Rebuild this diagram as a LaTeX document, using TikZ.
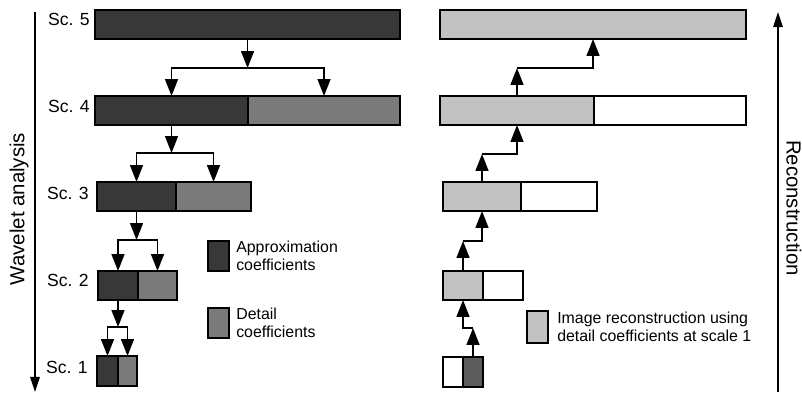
\documentclass[tikz,border=0pt]{standalone}
\usepackage{fontspec}
\setmainfont{Liberation Sans}
\usetikzlibrary{arrows.meta,positioning}
\definecolor{approxgray}{gray}{0.22}
\definecolor{detailgray}{gray}{0.48}
\definecolor{recongray}{gray}{0.76}
\definecolor{scalegray}{gray}{0.36}

\begin{document}
\begin{tikzpicture}[
  x=0.025cm, y=-0.025cm,
  cell/.style={rectangle, draw, line width=1.1pt, anchor=north west, minimum height=0.725cm, inner sep=0pt, outer sep=0pt},
  arr/.style={-{Triangle[length=0.42cm, width=0.32cm]}, line width=1.2pt},
  axis/.style={-{Triangle[length=0.38cm, width=0.24cm]}, line width=0.9pt},
  sclabel/.style={font=\fontsize{12.5}{14}\selectfont, anchor=east, inner sep=0pt},
  legtext/.style={font=\fontsize{11.3}{13}\selectfont, align=left, anchor=west, inner sep=0pt},
  sidelabel/.style={font=\fontsize{14.5}{16}\selectfont, inner sep=0pt},
  every node/.style={inner sep=2pt}
]
\useasboundingbox (0,0) rectangle (802,394);

% Analysis: coefficient bars
\node[cell, fill=approxgray, minimum width=7.625cm] (a5) at (95,10) {};
\node[cell, fill=approxgray, minimum width=3.825cm] (a4) at (95,96) {};
\node[cell, fill=detailgray, minimum width=3.8cm] (d4) at (248,96) {};
\node[cell, fill=approxgray, minimum width=1.975cm] (a3) at (97,182) {};
\node[cell, fill=detailgray, minimum width=1.875cm] (d3) at (176,182) {};
\node[cell, fill=approxgray, minimum width=1.0cm] (a2) at (98,271) {};
\node[cell, fill=detailgray, minimum width=0.975cm] (d2) at (138,271) {};
\node[cell, fill=approxgray, minimum width=0.525cm, minimum height=0.75cm] (a1) at (97,356) {};
\node[cell, fill=detailgray, minimum width=0.475cm, minimum height=0.75cm] (d1) at (118,356) {};

% Scale labels
\node[sclabel] (sc5) at (90,19) {Sc. 5};
\node[sclabel] (sc4) at (90,106) {Sc. 4};
\node[sclabel] (sc3) at (89,193) {Sc. 3};
\node[sclabel] (sc2) at (89,280) {Sc. 2};
\node[sclabel] (sc1) at (88,367) {Sc. 1};

% Analysis: splitting
\draw[arr] (a5.south) -- ++(0,29) coordinate (j5);
\draw[arr] (j5) -| (a4.north);
\draw[arr] (j5) -| (d4.north);
\draw[arr] (a4.south) -- ++(0,28) coordinate (j4);
\draw[arr] (j4) -| (a3.north);
\draw[arr] (j4) -| (d3.north);
\draw[arr] (a3.south) -- ++(0,29) coordinate (j3);
\draw[arr] (j3) -| (a2.north);
\draw[arr] (j3) -| (d2.north);
\draw[arr] (a2.south) -- ++(0,27) coordinate (j2);
\draw[arr] (j2) -| (a1.north);
\draw[arr] (j2) -| (d1.north);

% Reconstruction bars
\node[cell, fill=recongray, minimum width=7.65cm] (r5) at (440,10) {};
\node[cell, fill=recongray, minimum width=3.85cm] (r4l) at (440,96) {};
\node[cell, fill=white, minimum width=3.8cm] (r4r) at (594,96) {};
\node[cell, fill=recongray, minimum width=1.95cm] (r3l) at (443,182) {};
\node[cell, fill=white, minimum width=1.9cm] (r3r) at (521,182) {};
\node[cell, fill=recongray, minimum width=1.0cm] (r2l) at (443,271) {};
\node[cell, fill=white, minimum width=1.0cm] (r2r) at (483,271) {};
\node[cell, fill=white, minimum width=0.5cm, minimum height=0.75cm] (r1l) at (443,357) {};
\node[cell, fill=scalegray, minimum width=0.5cm, minimum height=0.75cm] (r1r) at (463,357) {};

% Reconstruction: climbing
\draw[arr] (r1r.north) -- ++(0,-29) coordinate (k1);
\draw[arr] (k1) -| (r2l.south);
\draw[arr] (r2l.north) -- ++(0,-30) coordinate (k2);
\draw[arr] (k2) -| (r3l.south);
\draw[arr] (r3l.north) -- ++(0,-28) coordinate (k3);
\draw[arr] (k3) -| (r4l.south);
\draw[arr] (r4l.north) -- ++(0,-28) coordinate (k4);
\draw[arr] (k4) -| (r5.south);

% Legend
\node[cell, fill=approxgray, minimum width=0.525cm, minimum height=0.75cm] (lapp) at (208,241) {};
\node[legtext, right=0.175cm of lapp] (tapp) {Approximation\\coefficients};
\node[cell, fill=detailgray, minimum width=0.525cm, minimum height=0.75cm] (ldet) at (208,308) {};
\node[legtext, right=0.175cm of ldet] (tdet) {Detail\\coefficients};
\node[cell, fill=recongray, minimum width=0.525cm, minimum height=0.8cm] (lrec) at (527,311) {};
\node[legtext, right=0.225cm of lrec] (trec) {Image reconstruction using\\detail coefficients at scale 1};

% Side axes
\coordinate (wtop) at (35,12);
\coordinate (wbot) at (35,392);
\draw[axis] (wtop) -- (wbot);
\node[sidelabel, rotate=90] (wlab) at (19,209) {Wavelet analysis};
\coordinate (rbot) at (778,392);
\coordinate (rtop) at (778,12);
\draw[axis] (rbot) -- (rtop);
\node[sidelabel, rotate=-90] (rlab) at (794,208) {Reconstruction};

\end{tikzpicture}
\end{document}
